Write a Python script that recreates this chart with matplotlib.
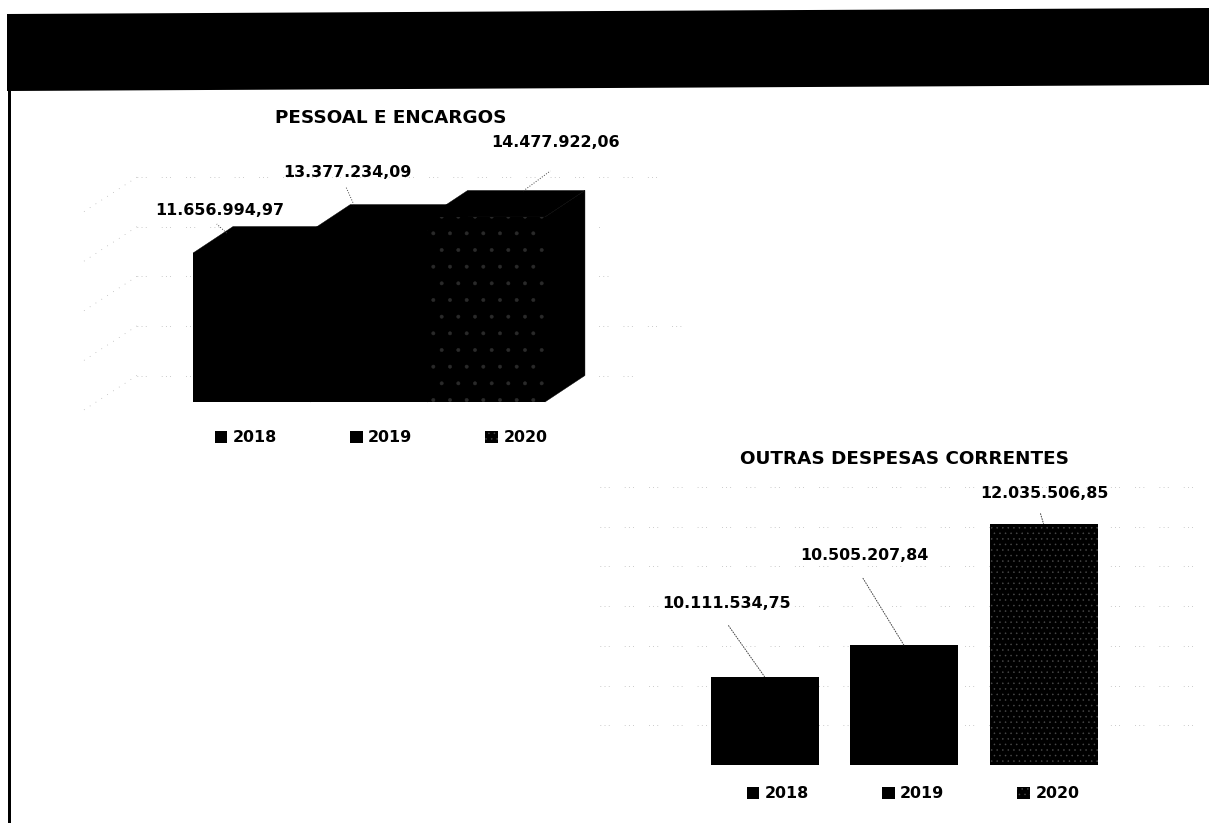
import matplotlib
matplotlib.use("Agg")
import matplotlib.pyplot as plt
from matplotlib.patches import Patch, Polygon

W, H = 1209, 823

years = ["2018", "2019", "2020"]
pessoal = [11656994.97, 13377234.09, 14477922.06]
outras = [10111534.75, 10505207.84, 12035506.85]
pessoal_labels = ["11.656.994,97", "13.377.234,09", "14.477.922,06"]
outras_labels = ["10.111.534,75", "10.505.207,84", "12.035.506,85"]
pessoal_grid = [0, 4e6, 8e6, 12e6, 16e6]
outras_grid = [9e6, 9.5e6, 10e6, 10.5e6, 11e6, 11.5e6, 12e6, 12.5e6]

plt.rcParams["font.family"] = ["DejaVu Sans"]
plt.rcParams["hatch.linewidth"] = 0.35

FILL = "#000000"
SPECK = "#4a4a4a"
GRID = "#9a9a9a"
SPARSE = (0, (1, 5, 1, 5, 1, 22))


def add_axes_px(fig, left, top, right, bottom):
    return fig.add_axes([left / W, 1 - bottom / H, (right - left) / W, (bottom - top) / H])


def value_label(ax, x, y, text, offset):
    ax.annotate(text, xy=(x, y), xytext=offset, textcoords="offset pixels", ha="center", va="center",
                fontsize=11.4, fontweight="bold", color="black", annotation_clip=False)


def year_legend(fig, cx, cy):
    handles = [Patch(facecolor=FILL), Patch(facecolor=FILL),
               Patch(facecolor=FILL, edgecolor=SPECK, hatch="...", lw=0)]
    fig.legend(handles, years, ncol=3, loc="center", bbox_to_anchor=(cx / W, 1 - cy / H),
               frameon=False, handlelength=0.8, handleheight=0.8, handletextpad=0.35,
               columnspacing=4.6, prop=dict(size=11.4, weight="bold"))


fig = plt.figure(figsize=(W / 100, H / 100), dpi=100, facecolor="white")

# header band and left rule, slightly skewed like the scanned page
page = fig.add_axes([0, 0, 1, 1])
page.set_xlim(0, W)
page.set_ylim(H, 0)
page.axis("off")
page.add_patch(Polygon([(7, 14), (W, 8), (W, 85), (7, 91)], facecolor="black", edgecolor="none"))
page.add_patch(Polygon([(8, 91), (11, 91), (11, H), (8, H)], facecolor="black", edgecolor="none"))

# PESSOAL E ENCARGOS: contiguous 3D columns, built from polygons
spacing = 117.3
px_per_value = 12.78 / 1e6
x0 = 251.7
y0 = 402
left_px, right_px, top_px, bottom_px = 75, 695, 160, 445
ax1 = add_axes_px(fig, left_px, top_px, right_px, bottom_px)
ax1.set_xlim((left_px - x0) / spacing, (right_px - x0) / spacing)
ax1.set_ylim((y0 - bottom_px) / px_per_value, (y0 - top_px) / px_per_value)
ax1.axis("off")

depth_x = 40 / spacing
depth_y = 26.5 / px_per_value
back_scale = 0.97
wall_left = (137 - x0) / spacing
wall_right = [(640 - x0) / spacing, (690 - x0) / spacing, (620 - x0) / spacing,
              (600 - x0) / spacing, (670 - x0) / spacing]
side_x = 57 / spacing
side_y = 37 / px_per_value

# back wall and left wall gridlines
for g, end in zip(pessoal_grid, wall_right):
    gy = g * back_scale + depth_y
    ax1.plot([wall_left, end], [gy, gy], color=GRID, lw=0.5, ls=SPARSE, zorder=1)
    ax1.plot([wall_left, wall_left - side_x], [gy, gy - side_y], color=GRID, lw=0.5,
             ls=(0, (1, 9)), zorder=1)

for i, v in enumerate(pessoal):
    lft, rgt = i - 0.5, i + 0.5
    ax1.add_patch(Polygon([(lft, v), (rgt, v), (rgt + depth_x, v + depth_y), (lft + depth_x, v + depth_y)],
                          facecolor=FILL, edgecolor=FILL, lw=0.3, zorder=2 + i))
    ax1.add_patch(Polygon([(rgt, 0), (rgt + depth_x, depth_y), (rgt + depth_x, v + depth_y), (rgt, v)],
                          facecolor=FILL, edgecolor=FILL, lw=0.3, zorder=2 + i))
bars1 = ax1.bar(range(3), pessoal, width=1.0, color=FILL, zorder=6)
bars1[2].set(hatch=".", edgecolor="#2a2a2a", lw=0)

leaders1 = [((-25, 20), (-35, 29)), ((-15, 26), (-23, 44)), ((37, 26), (64, 46))]
offsets1 = [(-32, 43), (-22, 59), (69, 74)]
for i, v in enumerate(pessoal):
    start, end = leaders1[i]
    ax1.plot([i + start[0] / spacing, i + end[0] / spacing],
             [v + start[1] / px_per_value, v + end[1] / px_per_value],
             color="#444444", lw=0.7, ls=":", zorder=7, clip_on=False)
    value_label(ax1, i, v, pessoal_labels[i], offsets1[i])

fig.text(391 / W, 1 - 118 / H, "PESSOAL E ENCARGOS", ha="center", va="center", fontsize=13.2, fontweight="bold")
year_legend(fig, 381, 438)

# OUTRAS DESPESAS CORRENTES: flat columns on a truncated axis
spacing2 = 139.5
scale2 = 79.5 / 1e6
x02 = 764.5
y02 = 765
left2, right2 = 600, 1205
ax2 = add_axes_px(fig, left2, y02 - (12.5e6 - 9e6) * scale2, right2, y02)
ax2.set_xlim((left2 - x02) / spacing2, (right2 - x02) / spacing2)
ax2.set_ylim(9e6, 12.5e6)
for side in ax2.spines.values():
    side.set_visible(False)
ax2.set_xticks([])
ax2.set_yticks(outras_grid)
ax2.tick_params(left=False, labelleft=False)
ax2.grid(axis="y", color=GRID, lw=0.5, ls=SPARSE)
ax2.set_axisbelow(True)
bars2 = ax2.bar(range(3), outras, width=108 / spacing2, color=FILL)
bars2[2].set(hatch="...", edgecolor=SPECK, lw=0)

leaders2 = [(-36, 51), (-41, 67), (-3, 10)]
offsets2 = [(-38, 73), (-40, 90), (1, 30)]
for i, v in enumerate(outras):
    ax2.annotate("", xy=(i, v), xytext=leaders2[i], textcoords="offset pixels",
                 arrowprops=dict(arrowstyle="-", lw=0.7, ls=":", color="#444444", shrinkA=0, shrinkB=0),
                 annotation_clip=False)
    value_label(ax2, i, v, outras_labels[i], offsets2[i])

fig.text(905 / W, 1 - 459 / H, "OUTRAS DESPESAS CORRENTES", ha="center", va="center", fontsize=13.2, fontweight="bold")
year_legend(fig, 913, 794)

fig.savefig("out.png", dpi=100)
